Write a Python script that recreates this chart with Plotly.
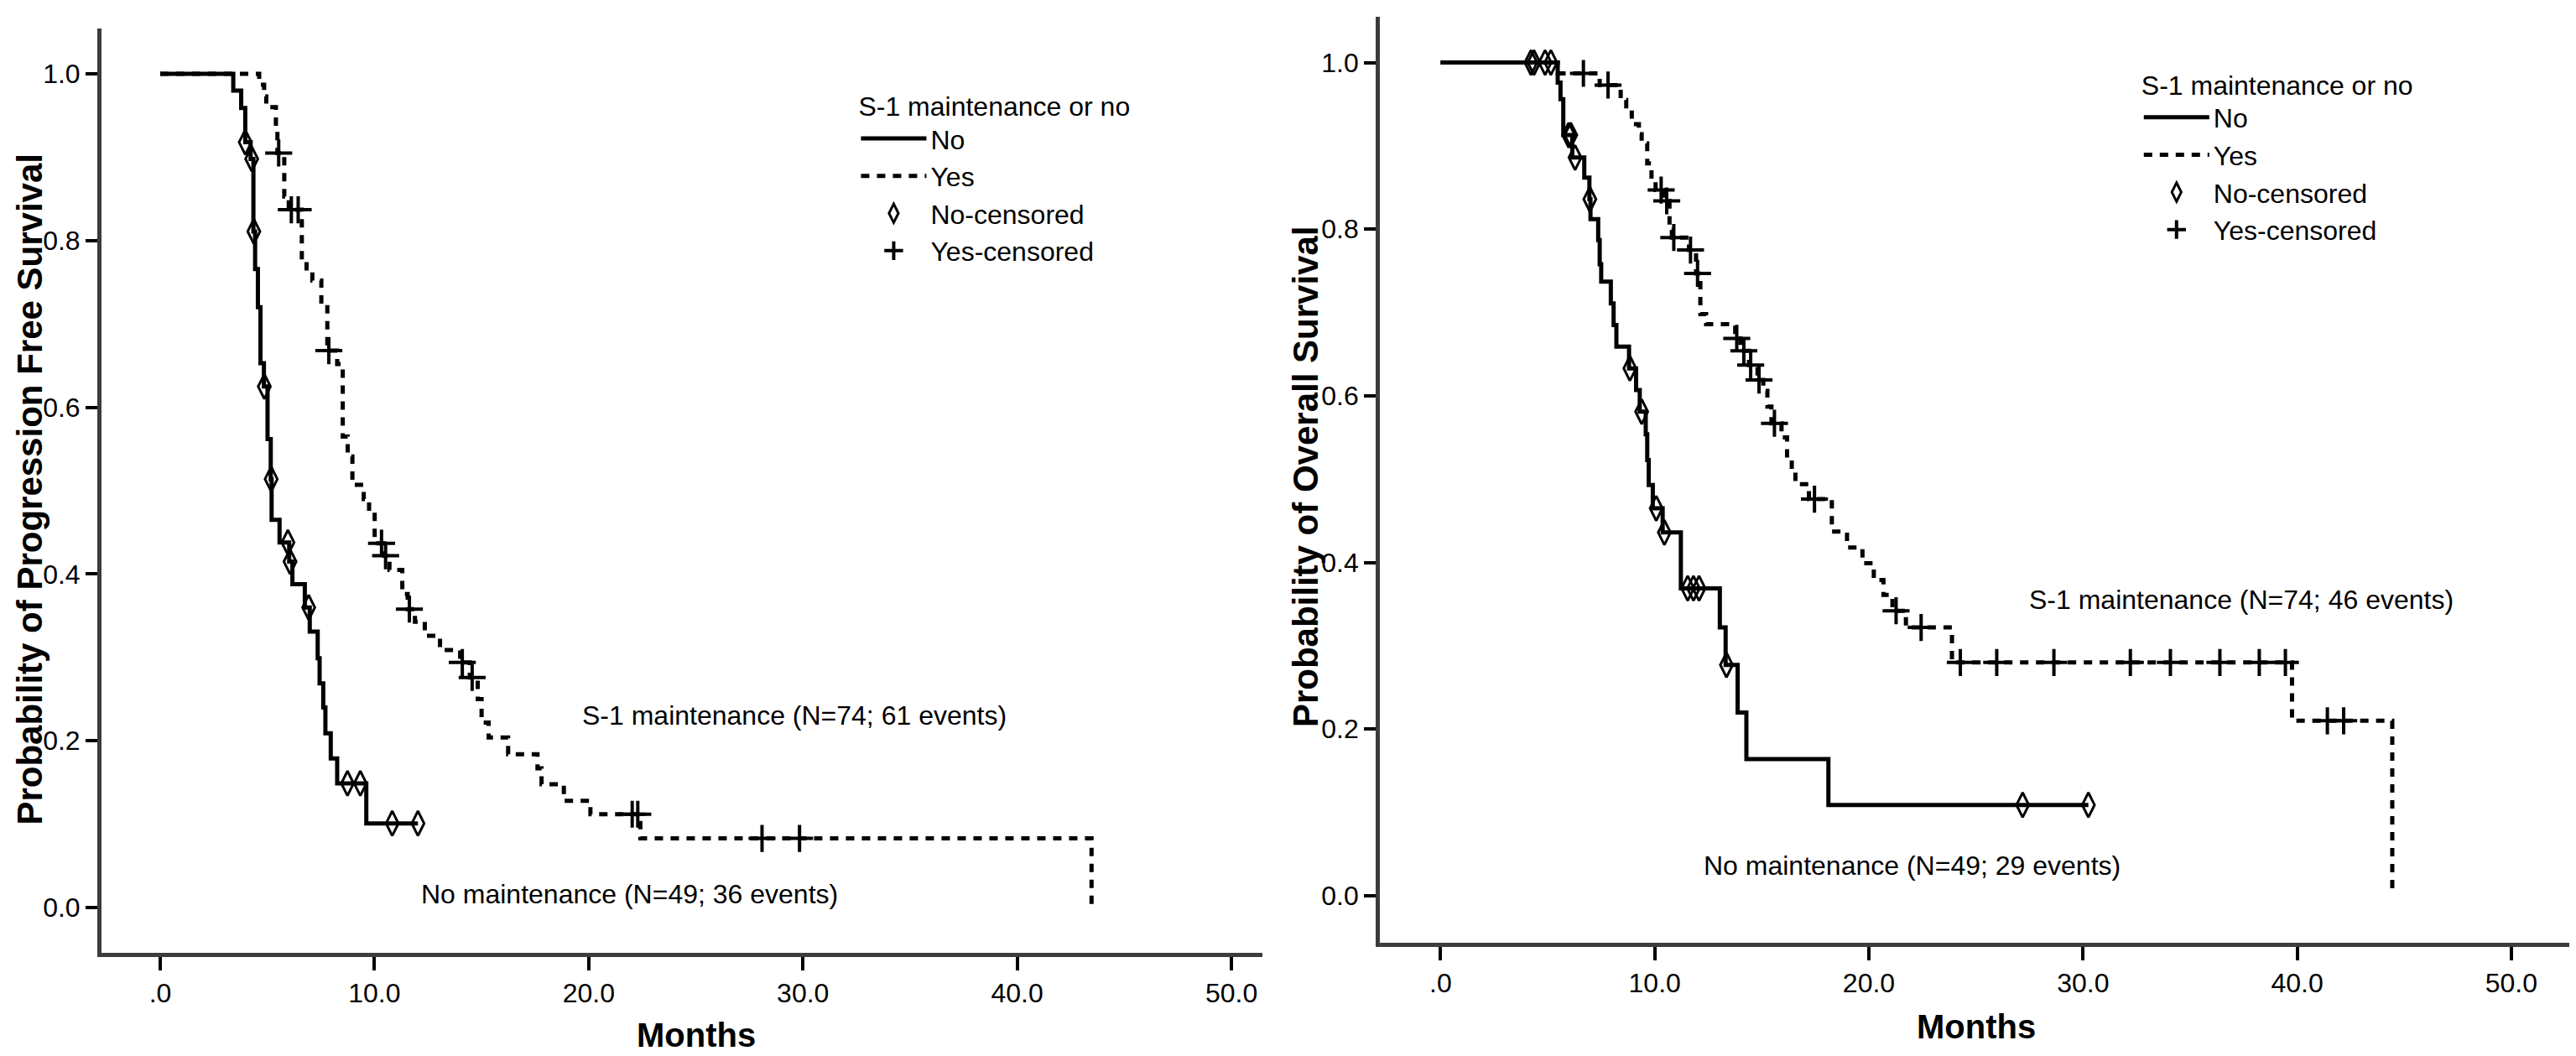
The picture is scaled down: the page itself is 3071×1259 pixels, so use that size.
import plotly.graph_objects as go

# --- Progression free survival (left panel) ---
pfs_no_time = [0, 3.41, 3.78, 3.97, 4.22, 4.35, 4.43, 4.56, 4.68, 4.84, 5.01, 5.16, 5.20, 5.57, 6.02,
               6.17, 6.75, 6.98, 7.35, 7.44, 7.61, 7.71, 7.96, 8.26, 9.62, 12.03]
pfs_no_surv = [1.0, 0.980, 0.959, 0.918, 0.898, 0.811, 0.766, 0.720, 0.653, 0.625, 0.562, 0.514, 0.465,
               0.438, 0.415, 0.388, 0.360, 0.331, 0.299, 0.269, 0.240, 0.209, 0.179, 0.149, 0.101, 0.101]
pfs_no_cens_time = [3.97, 4.27, 4.37, 4.86, 5.18, 5.96, 6.06, 6.93, 8.74, 9.34, 10.83, 12.03]
pfs_no_cens_surv = [0.918, 0.898, 0.811, 0.625, 0.514, 0.438, 0.415, 0.360, 0.149, 0.149, 0.101, 0.101]

pfs_yes_time = [0, 4.62, 4.85, 4.95, 5.40, 5.47, 5.79, 6.00, 6.61, 6.83, 7.10, 7.52, 7.80, 8.26, 8.52,
                8.75, 8.97, 9.50, 9.75, 10.01, 10.45, 10.70, 11.30, 11.55, 11.89, 12.35, 13.06, 14.00,
                14.45, 14.82, 15.00, 15.33, 16.24, 17.61, 17.80, 18.84, 20.08, 22.41, 43.47]
pfs_yes_surv = [1.0, 0.987, 0.973, 0.960, 0.932, 0.905, 0.853, 0.837, 0.780, 0.762, 0.752, 0.723, 0.668,
                0.652, 0.565, 0.541, 0.507, 0.490, 0.474, 0.437, 0.422, 0.405, 0.376, 0.358, 0.343, 0.326,
                0.309, 0.294, 0.276, 0.250, 0.222, 0.204, 0.184, 0.167, 0.148, 0.128, 0.112, 0.083, 0.0]
pfs_yes_cens_time = [5.53, 6.12, 6.44, 7.87, 10.33, 10.52, 11.63, 14.10, 14.56, 22.03, 22.29, 28.09, 29.84]
pfs_yes_cens_surv = [0.905, 0.837, 0.837, 0.668, 0.437, 0.422, 0.358, 0.294, 0.276, 0.112, 0.112, 0.083, 0.083]

# --- Overall survival (right panel) ---
os_no_time = [0, 5.47, 5.60, 5.73, 6.15, 6.71, 6.95, 7.00, 7.36, 7.43, 7.50, 7.95, 8.08, 8.21, 8.80,
              9.13, 9.30, 9.58, 9.65, 9.72, 9.91, 10.37, 11.22, 13.04, 13.31, 13.87, 14.28, 18.11, 30.25]
os_no_surv = [1.0, 0.976, 0.956, 0.913, 0.886, 0.862, 0.836, 0.812, 0.787, 0.758, 0.737, 0.711, 0.685,
              0.659, 0.633, 0.607, 0.581, 0.554, 0.523, 0.493, 0.465, 0.436, 0.369, 0.322, 0.277, 0.220,
              0.164, 0.109, 0.109]
os_no_cens_time = [4.22, 4.36, 4.88, 5.15, 5.98, 6.08, 6.28, 6.97, 8.84, 9.39, 10.07, 10.45, 11.54,
                   11.81, 12.07, 13.35, 27.18, 30.25]
os_no_cens_surv = [1.0, 1.0, 1.0, 1.0, 0.913, 0.913, 0.886, 0.836, 0.633, 0.581, 0.465, 0.436, 0.369,
                   0.369, 0.369, 0.277, 0.109, 0.109]

os_yes_time = [0, 5.47, 7.43, 8.41, 8.67, 8.93, 9.26, 9.39, 9.65, 9.85, 10.04, 10.45, 10.69, 10.80,
               11.60, 11.93, 12.13, 12.40, 13.76, 14.00, 14.40, 14.80, 15.07, 15.26, 15.45, 15.92, 16.18,
               16.40, 16.57, 17.20, 18.27, 18.98, 19.70, 20.23, 20.68, 21.10, 21.73, 23.88, 39.76, 44.44]
os_yes_surv = [1.0, 0.987, 0.973, 0.955, 0.940, 0.926, 0.914, 0.903, 0.879, 0.859, 0.847, 0.834, 0.799,
               0.790, 0.775, 0.747, 0.698, 0.686, 0.669, 0.654, 0.637, 0.619, 0.606, 0.587, 0.567, 0.550,
               0.523, 0.510, 0.494, 0.476, 0.437, 0.418, 0.399, 0.379, 0.361, 0.342, 0.322, 0.280, 0.210, 0.0]
os_yes_cens_time = [6.67, 7.82, 10.30, 10.56, 10.89, 11.67, 12.00, 13.83, 14.16, 14.48, 14.87, 15.59,
                    17.46, 21.27, 22.44, 24.27, 25.97, 28.64, 32.21, 34.08, 36.39, 38.23, 39.45, 41.41, 42.17]
os_yes_cens_surv = [0.987, 0.973, 0.847, 0.834, 0.790, 0.775, 0.747, 0.669, 0.654, 0.637, 0.619, 0.567,
                    0.476, 0.342, 0.322, 0.280, 0.280, 0.280, 0.280, 0.280, 0.280, 0.280, 0.280, 0.210, 0.210]

x_tick_vals = [0, 10, 20, 30, 40, 50]
x_tick_text = ['.0', '10.0', '20.0', '30.0', '40.0', '50.0']
y_tick_vals = [0, 0.2, 0.4, 0.6, 0.8, 1.0]
y_tick_text = ['0.0', '0.2', '0.4', '0.6', '0.8', '1.0']

group_names = ['No', 'Yes', 'No-censored', 'Yes-censored']
legend_title = 'S-1 maintenance or no'
x_title = 'Months'
pfs_y_title = 'Probability of Progression Free Survival'
os_y_title = 'Probability of Overall Survival'
pfs_labels = ['S-1 maintenance (N=74; 61 events)', 'No maintenance (N=49; 36 events)']
os_labels = ['S-1 maintenance (N=74; 46 events)', 'No maintenance (N=49; 29 events)']

SANS = 'Liberation Sans, Arial, sans-serif'


def add_panel(fig, xa, ya, legend, no_t, no_s, no_ct, no_cs, yes_t, yes_s, yes_ct, yes_cs):
    common = dict(xaxis=xa, yaxis=ya, legend=legend)
    fig.add_trace(go.Scatter(x=no_t, y=no_s, mode='lines', line_shape='hv', name=group_names[0],
                             line=dict(color='black', width=5), **common))
    fig.add_trace(go.Scatter(x=yes_t, y=yes_s, mode='lines', line_shape='hv', name=group_names[1],
                             line=dict(color='black', width=5, dash='10px,9px'), **common))
    fig.add_trace(go.Scatter(x=no_ct, y=no_cs, mode='markers', name=group_names[2],
                             marker=dict(symbol='diamond-tall-open', size=21, color='black',
                                         line=dict(color='black', width=3)), **common))
    fig.add_trace(go.Scatter(x=yes_ct, y=yes_cs, mode='markers', name=group_names[3],
                             marker=dict(symbol='cross-thin-open', size=23, color='black',
                                         line=dict(color='black', width=4)), **common))


fig = go.Figure()
add_panel(fig, 'x', 'y', 'legend', pfs_no_time, pfs_no_surv, pfs_no_cens_time, pfs_no_cens_surv,
          pfs_yes_time, pfs_yes_surv, pfs_yes_cens_time, pfs_yes_cens_surv)
add_panel(fig, 'x2', 'y2', 'legend2', os_no_time, os_no_surv, os_no_cens_time, os_no_cens_surv,
          os_yes_time, os_yes_surv, os_yes_cens_time, os_yes_cens_surv)

axis_common = dict(showgrid=False, zeroline=False, showline=True, linewidth=5, linecolor='#3c3c3c',
                   ticks='outside', tickwidth=4, tickcolor='black', mirror=False, automargin=False,
                   tickfont=dict(family=SANS, size=32, color='black'))
legend_font = dict(family=SANS, size=32, color='black')

fig.update_layout(
    width=3071, height=1259,
    margin=dict(l=0, r=0, t=0, b=0),
    paper_bgcolor='white', plot_bgcolor='white',
    xaxis=dict(domain=[0.0368, 0.4875], range=[-2.74, 51.45], anchor='y',
               tickvals=x_tick_vals, ticktext=x_tick_text, ticklen=16, **axis_common),
    yaxis=dict(domain=[0.1040, 0.9793], range=[-0.0543, 1.0543], anchor='x',
               tickvals=y_tick_vals, ticktext=y_tick_text, ticklen=14, **axis_common),
    xaxis2=dict(domain=[0.5331, 0.9964], range=[-2.83, 52.9], anchor='y2',
                tickvals=x_tick_vals, ticktext=x_tick_text, ticklen=16, **axis_common),
    yaxis2=dict(domain=[0.1136, 0.9905], range=[-0.0564, 1.055], anchor='x2',
                tickvals=y_tick_vals, ticktext=y_tick_text, ticklen=14, **axis_common),
    legend=dict(title=dict(text=legend_title, font=legend_font),
                x=0.330, y=0.930, xanchor='left', yanchor='top', bgcolor='rgba(0,0,0,0)',
                font=legend_font, tracegroupgap=0, itemwidth=78),
    legend2=dict(title=dict(text=legend_title, font=legend_font),
                 x=0.828, y=0.950, xanchor='left', yanchor='top', bgcolor='rgba(0,0,0,0)',
                 font=legend_font, tracegroupgap=0, itemwidth=78),
    showlegend=True,
)

# axis titles as paper annotations so the plot areas keep their exact place
title_font = dict(family=SANS, size=42, color='black', weight='bold')
fig.add_annotation(x=0.0090, y=0.5433, xref='paper', yref='paper', text=pfs_y_title, textangle=-90,
                   showarrow=False, xanchor='center', yanchor='middle', font=title_font)
fig.add_annotation(x=0.5041, y=0.5552, xref='paper', yref='paper', text=os_y_title, textangle=-90,
                   showarrow=False, xanchor='center', yanchor='middle', font=title_font)
fig.add_annotation(x=0.2677, y=0.0260, xref='paper', yref='paper', text=x_title, showarrow=False,
                   xanchor='center', yanchor='middle', font=dict(title_font, size=40))
fig.add_annotation(x=0.7646, y=0.0340, xref='paper', yref='paper', text=x_title, showarrow=False,
                   xanchor='center', yanchor='middle', font=dict(title_font, size=40))

# curve labels placed in data coordinates
label_font = dict(family=SANS, size=32, color='black')
fig.add_annotation(x=19.6, y=0.230, xref='x', yref='y', text=pfs_labels[0], showarrow=False,
                   xanchor='left', yanchor='middle', font=label_font)
fig.add_annotation(x=12.1, y=0.016, xref='x', yref='y', text=pfs_labels[1], showarrow=False,
                   xanchor='left', yanchor='middle', font=label_font)
fig.add_annotation(x=27.4, y=0.355, xref='x2', yref='y2', text=os_labels[0], showarrow=False,
                   xanchor='left', yanchor='middle', font=label_font)
fig.add_annotation(x=12.2, y=0.036, xref='x2', yref='y2', text=os_labels[1], showarrow=False,
                   xanchor='left', yanchor='middle', font=label_font)

fig.write_html("out.html")
